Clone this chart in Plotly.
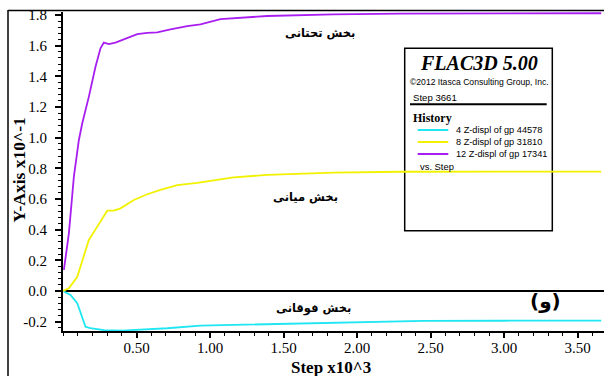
import plotly.graph_objects as go

# Step counts (x10^3) and vertical displacement histories (x10^-1)
steps_top = [0.0, 0.051, 0.097, 0.131, 0.153, 0.187, 0.278, 0.403, 0.505, 0.709, 0.935,
             1.25, 1.5, 2.0, 2.4, 2.45, 3.0, 3.661]
disp_top = [0.0, -0.026, -0.08, -0.168, -0.233, -0.243, -0.255, -0.258, -0.254, -0.243, -0.226,
            -0.22, -0.215, -0.205, -0.199, -0.195, -0.194, -0.193]

steps_mid = [0.0, 0.04, 0.097, 0.142, 0.176, 0.233, 0.301, 0.346, 0.391, 0.482, 0.573, 0.663,
             0.777, 0.913, 1.161, 1.389, 1.841, 2.297, 3.0, 3.661]
disp_mid = [0.0, 0.018, 0.093, 0.224, 0.333, 0.42, 0.524, 0.524, 0.539, 0.594, 0.631, 0.659,
            0.691, 0.706, 0.741, 0.757, 0.772, 0.778, 0.779, 0.779]

steps_bot = [0.006, 0.04, 0.074, 0.108, 0.131, 0.176, 0.221, 0.255, 0.278, 0.312, 0.357, 0.391,
             0.437, 0.505, 0.573, 0.641, 0.731, 0.845, 0.935, 1.071, 1.389, 1.839, 2.295, 3.0, 3.661]
disp_bot = [0.137, 0.376, 0.746, 0.985, 1.094, 1.268, 1.463, 1.583, 1.62, 1.611, 1.62, 1.633,
            1.648, 1.676, 1.684, 1.687, 1.706, 1.728, 1.739, 1.774, 1.794, 1.805, 1.81, 1.811, 1.812]

series_names = ["4 Z-displ of gp 44578", "8 Z-displ of gp 31810", "12 Z-displ of gp 17341"]
series_colors = ["#1fe6f2", "#f2f200", "#a81ef0"]
section_labels = ["بخش فوقانی", "بخش میانی", "بخش تحتانی"]

x_ticks = [0.5, 1.0, 1.5, 2.0, 2.5, 3.0, 3.5]
y_ticks = [-0.2, 0.0, 0.2, 0.4, 0.6, 0.8, 1.0, 1.2, 1.4, 1.6, 1.8]

W, H = 604, 376
ML, MR, MT, MB = 63, 0, 12, 45
PW, PH = W - ML - MR, H - MT - MB


def px(xp):
    return (xp - ML) / PW


def py(yp):
    return (H - MB - yp) / PH


SERIF = "Liberation Serif, Times New Roman, serif"
SANS = "Liberation Sans, Arial, sans-serif"
FA = "DejaVu Sans, sans-serif"

fig = go.Figure()
for xs, ys, name, col in zip([steps_top, steps_mid, steps_bot], [disp_top, disp_mid, disp_bot],
                             series_names, series_colors):
    fig.add_trace(go.Scatter(x=xs, y=ys, mode="lines", name=name,
                             line=dict(color=col, width=1.8), showlegend=False))

shapes = []
ann = []

# outer frame
shapes.append(dict(type="line", xref="paper", yref="paper", x0=px(8), x1=px(8), y0=py(10), y1=py(380),
                   line=dict(color="black", width=1.5)))
shapes.append(dict(type="line", xref="paper", yref="paper", x0=px(8), x1=px(610), y0=py(10.5), y1=py(10.5),
                   line=dict(color="black", width=1.5)))

# info box
shapes.append(dict(type="rect", xref="paper", yref="paper", x0=px(404.7), x1=px(552.3),
                   y0=py(230.7), y1=py(48.3), line=dict(color="black", width=1.5), layer="below"))
shapes.append(dict(type="line", xref="paper", yref="paper", x0=px(410), x1=px(546.7),
                   y0=py(104.3), y1=py(104.3), line=dict(color="black", width=2)))

ann.append(dict(text="<b><i>FLAC3D 5.00</i></b>", x=px(479), y=py(63), xref="paper", yref="paper",
                showarrow=False, xanchor="center", yanchor="middle", font=dict(family=SERIF, size=20, color="black")))
ann.append(dict(text="©2012 Itasca Consulting Group, Inc.", x=px(408), y=py(81.7), xref="paper", yref="paper",
                showarrow=False, xanchor="left", yanchor="middle", font=dict(family=SANS, size=8.6, color="black")))
ann.append(dict(text="Step 3661", x=px(410.5), y=py(97.3), xref="paper", yref="paper",
                showarrow=False, xanchor="left", yanchor="middle", font=dict(family=SANS, size=9.6, color="black")))
ann.append(dict(text="<b>History</b>", x=px(410.5), y=py(118.3), xref="paper", yref="paper",
                showarrow=False, xanchor="left", yanchor="middle", font=dict(family=SERIF, size=12, color="black")))
for i, (name, col) in enumerate(zip(series_names, series_colors)):
    yy = 130 + i * 12
    shapes.append(dict(type="line", xref="paper", yref="paper", x0=px(417.7), x1=px(448.3),
                       y0=py(yy), y1=py(yy), line=dict(color=col, width=2)))
    ann.append(dict(text=name, x=px(454), y=py(yy), xref="paper", yref="paper",
                    showarrow=False, xanchor="left", yanchor="middle", font=dict(family=SANS, size=9.2, color="black")))
ann.append(dict(text="vs. Step", x=px(417.5), y=py(166), xref="paper", yref="paper",
                showarrow=False, xanchor="left", yanchor="middle", font=dict(family=SANS, size=9.4, color="black")))

# section labels
for label, (xp, yp) in zip(section_labels, [(313, 308), (305, 197), (320, 33)]):
    ann.append(dict(text="<b>" + label + "</b>", x=px(xp), y=py(yp), xref="paper", yref="paper",
                    showarrow=False, xanchor="center", yanchor="middle", font=dict(family=FA, size=11.5, color="black")))
ann.append(dict(text="<b>(و)</b>", x=px(545), y=py(301), xref="paper", yref="paper",
                showarrow=False, xanchor="center", yanchor="middle", font=dict(family=FA, size=20, color="black")))

# axis titles
ann.append(dict(text="<b>Y-Axis x10^-1</b>", x=px(18.5), y=py(170), xref="paper", yref="paper", textangle=-90,
                showarrow=False, xanchor="center", yanchor="middle", font=dict(family=SERIF, size=17.5, color="black")))
ann.append(dict(text="<b>Step x10^3</b>", x=px(331), y=py(367.5), xref="paper", yref="paper",
                showarrow=False, xanchor="center", yanchor="middle", font=dict(family=SERIF, size=17, color="black")))

fig.update_layout(
    width=W, height=H, margin=dict(l=ML, r=MR, t=MT, b=MB, pad=0),
    paper_bgcolor="white", plot_bgcolor="white",
    shapes=shapes, annotations=ann, showlegend=False,
    xaxis=dict(range=[0, 3.68], tickvals=x_ticks, ticktext=[f"{v:.2f}" for v in x_ticks],
               ticks="outside", ticklen=5, tickwidth=1.5, tickcolor="black", ticklabelstandoff=-3,
               minor=dict(dtick=0.1, tick0=0, ticks="outside", ticklen=3, tickwidth=1.2, tickcolor="black", showgrid=False),
               showline=True, linecolor="black", linewidth=2, showgrid=False, zeroline=False,
               tickfont=dict(family=SERIF, size=15, color="black")),
    yaxis=dict(range=[-0.261, 1.82], tickvals=y_ticks, ticktext=[f"{v:.1f}" for v in y_ticks],
               ticks="outside", ticklen=6, tickwidth=1.5, tickcolor="black", ticklabelstandoff=5,
               minor=dict(dtick=0.04, tick0=0, ticks="outside", ticklen=3, tickwidth=1.2, tickcolor="black", showgrid=False),
               showline=True, linecolor="black", linewidth=2, showgrid=False,
               zeroline=True, zerolinecolor="black", zerolinewidth=1.5,
               tickfont=dict(family=SERIF, size=15, color="black")),
)

fig.write_html("out.html")
